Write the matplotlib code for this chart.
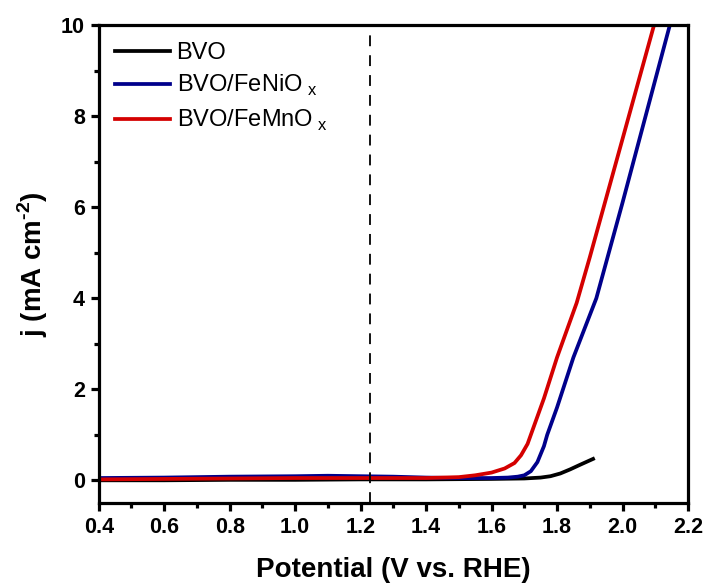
import matplotlib.pyplot as plt
import numpy as np

plt.rcParams['font.family'] = ['Liberation Sans', 'DejaVu Sans']
plt.rcParams['mathtext.fontset'] = 'custom'
plt.rcParams['mathtext.rm'] = 'Liberation Sans'
plt.rcParams['mathtext.bf'] = 'Liberation Sans:bold'

# LSV curves, potential in V vs. RHE and current density in mA cm-2
bvo_v = [0.40, 0.60, 0.80, 1.00, 1.20, 1.40, 1.60, 1.70, 1.75, 1.78, 1.81, 1.84, 1.87, 1.91]
bvo_j = [0.00, 0.00, 0.01, 0.01, 0.02, 0.02, 0.03, 0.04, 0.06, 0.09, 0.15, 0.24, 0.34, 0.47]

feni_v = [0.40, 0.60, 0.80, 1.00, 1.10, 1.20, 1.30, 1.40, 1.50, 1.60, 1.65, 1.68, 1.70,
          1.72, 1.74, 1.76, 1.77, 1.80, 1.85, 1.92, 2.00, 2.05, 2.10, 2.15]
feni_j = [0.05, 0.06, 0.08, 0.09, 0.10, 0.09, 0.08, 0.06, 0.05, 0.05, 0.06, 0.08, 0.11,
          0.20, 0.40, 0.75, 1.00, 1.60, 2.70, 4.00, 6.10, 7.45, 8.80, 10.15]

femn_v = [0.40, 0.60, 0.80, 1.00, 1.20, 1.30, 1.40, 1.50, 1.55, 1.60, 1.64, 1.67, 1.69,
          1.71, 1.72, 1.76, 1.80, 1.86, 1.90, 1.95, 2.00, 2.05, 2.10]
femn_j = [0.02, 0.03, 0.04, 0.05, 0.05, 0.05, 0.05, 0.07, 0.11, 0.17, 0.26, 0.38, 0.55,
          0.80, 1.00, 1.80, 2.70, 3.90, 4.90, 6.20, 7.50, 8.80, 10.10]

e_rev = 1.23

fig = plt.figure(figsize=(7.1, 5.87), dpi=100)
ax = fig.add_axes([0.139, 0.143, 0.830, 0.814])

ax.plot(bvo_v, bvo_j, color='black', lw=2.7, label='BVO')
ax.plot(feni_v, feni_j, color='#00008B', lw=2.7, label='BVO/FeNiO$_{\\ \\rm x}$')
ax.plot(femn_v, femn_j, color='#D40000', lw=2.7, label='BVO/FeMnO$_{\\ \\rm x}$')
ax.axvline(e_rev, color='black', lw=1.3, ls=(0, (6, 5)))

ax.set_xlim(0.4, 2.2)
ax.set_ylim(-0.5, 10)
ax.set_xticks(np.arange(0.4, 2.21, 0.2))
ax.set_xticks(np.arange(0.5, 2.2, 0.2), minor=True)
ax.set_yticks(np.arange(0, 11, 2))
ax.set_yticks(np.arange(1, 10, 2), minor=True)
ax.xaxis.set_major_formatter(plt.FormatStrFormatter('%.1f'))

for s in ax.spines.values():
    s.set_linewidth(2.3)
ax.tick_params(which='major', direction='out', length=6, width=2.3, labelsize=15.5, pad=4)
ax.tick_params(which='minor', direction='out', length=3.5, width=2.3)
for t in ax.get_xticklabels() + ax.get_yticklabels():
    t.set_fontweight('bold')

ax.set_xlabel('Potential (V vs. RHE)', fontsize=20, fontweight='bold', labelpad=14)
ax.set_ylabel('j (mA cm$^{\\mathbf{\u2010 2}}$)', fontsize=20, fontweight='bold', labelpad=8)

ax.legend(loc='upper left', frameon=False, fontsize=17, handlelength=2.3,
          handletextpad=0.3, labelspacing=0.4, borderaxespad=0.3)

fig.savefig('out.png', dpi=100)
